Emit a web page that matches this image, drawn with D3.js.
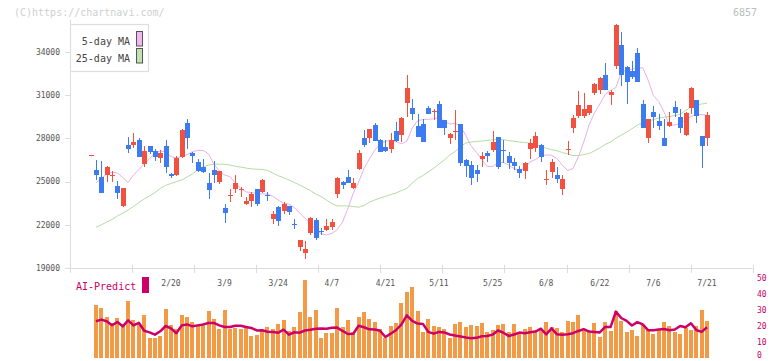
<!DOCTYPE html>
<html><head><meta charset="utf-8">
<script src="https://cdn.jsdelivr.net/npm/d3@7/dist/d3.min.js"></script>
<style>html,body{margin:0;padding:0;background:#fff;}svg{display:block;}</style>
</head><body><div id="chart"></div>
<script>
const openP  = [26820,25810,25320,25460,25420,24690,23310,27540,27540,27890,26240,27470,27100,26640,27470,25530,25460,26710,29050,27010,26380,26030,24920,25810,24990,23190,24020,24510,24460,23440,23670,24490,24300,24040,22400,23260,22980,23330,22090,20440,20060,21410,22330,21540,21640,21870,24140,24990,25340,24560,25850,28030,28030,28930,27890,27380,27240,28510,28240,30480,30130,28880,29000,30090,29830,30390,29280,28050,28490,29000,26500,26150,25810,26550,26970,27190,28080,27160,26780,26380,25850,25760,27260,27310,27540,25150,25690,25460,24470,27220,28740,29560,29560,29740,31130,31360,32400,31010,33030,34490,32980,32680,33950,30390,28050,29810,29210,28050,28860,30200,29510,28240,30130,30670,28170,28010];
const highP  = [26850,26500,26430,26100,25760,25040,24580,28080,28350,28050,27470,27500,27260,27190,27890,25620,26780,28650,29350,27060,26570,26570,25580,26450,25760,23440,24490,25440,24650,23910,24300,24500,25160,24260,22980,23330,23600,23340,22400,20960,20880,22560,22450,21760,22380,22380,25290,25040,25810,25270,27190,28580,28650,29090,27980,27890,28400,29160,29470,32400,30720,29690,29330,30250,30020,30620,29290,28400,29970,29010,26550,26430,26150,27080,27130,28510,28090,27890,27080,26620,26080,26330,27940,28470,27610,25810,26570,25990,25460,27820,29630,31290,31170,30340,31830,32230,33220,31360,35940,35410,33000,33370,34260,30670,29370,30270,29670,29330,29810,30600,30040,29800,31590,30680,28180,29850];
const lowP   = [26800,25110,24230,24950,24970,23770,23240,27010,27310,26690,25990,26900,26450,26310,25620,25250,25410,26640,27240,26310,25670,25580,23770,24920,24830,22100,23600,24230,23910,23380,23260,23330,24230,23670,22080,21940,22750,22680,21730,20200,19630,21290,20940,21290,21590,21640,23880,24510,24900,24510,25840,27420,27660,27820,27060,27080,27010,27770,27770,29470,29280,28080,27760,29660,29280,28730,28240,27610,27890,26080,25340,24760,24990,25990,26380,27080,25900,26270,25900,25810,25270,25200,26570,27080,26380,24760,25230,24880,24070,26850,28400,29400,29400,29630,31010,31080,31340,30320,32820,31640,30370,32120,31920,28730,27660,28700,28580,27460,28810,29510,28350,28190,29670,29050,25970,27470];
const closeP = [26840,25460,24230,26010,25450,24230,24530,27260,27730,26730,27130,27080,26710,27010,25990,25390,26640,28580,28050,26800,25760,25690,24420,25460,25740,22840,24070,24920,24500,23670,24140,23440,25110,24000,22750,22260,23420,22910,22060,20940,20320,22490,21100,21510,21920,22170,25270,24760,24920,24920,27010,27540,28630,27840,27080,27150,27890,27840,29400,31480,29690,28120,27770,29670,29870,28740,28700,28310,28530,26310,26080,25270,25530,26780,26780,27770,25990,27130,26310,26080,25620,26310,27700,28170,26730,25200,26380,25180,25180,27260,29440,30320,30020,30320,31760,32220,31360,31240,35870,32400,31940,32280,31940,28740,29350,29510,28860,27470,29160,29740,28740,29780,31520,29580,27490,29630];
const ma5 = [null,24920,25220,25530,25650,25600,25280,24940,25460,25830,26220,26590,26970,27130,27060,26740,26640,26740,26870,27080,27170,27160,26920,26220,25740,25460,25340,24900,24520,24280,24240,24170,24140,24140,23980,23720,23490,23440,23200,22820,22450,22090,21670,21380,21290,21400,21670,22190,23130,24190,24950,25900,26570,27170,27610,27800,27870,27760,27630,27800,28720,29230,29310,29330,29360,29450,29170,29000,29050,28860,28200,27490,27010,26520,26060,26050,26290,26340,26150,25900,25810,25920,26380,26530,26780,26850,26830,26600,26150,25760,25910,26720,27750,28930,29760,30390,31050,31330,31530,32580,32750,32810,32890,32910,32060,30980,30560,29830,28930,28930,29030,29280,29520,29660,29660,29600];
const ma25 = [null,21830,21990,22190,22370,22610,22820,23030,23270,23550,23790,24000,24240,24520,24740,24870,24990,25110,25320,25530,25840,26030,26150,26200,26220,26200,26150,26060,26010,25940,25880,25860,25850,25770,25600,25410,25270,25110,24940,24760,24580,24380,24140,23970,23720,23480,23310,23310,23310,23270,23220,23340,23580,23720,23860,23970,24100,24210,24380,24530,24900,25220,25420,25670,25920,26220,26500,26850,27090,27440,27680,27750,27780,27820,27850,27910,27940,27910,27850,27800,27750,27720,27660,27590,27470,27310,27220,27150,27020,26920,26810,26810,26880,26950,27130,27330,27580,27750,28010,28220,28440,28670,28930,29070,29170,29310,29420,29470,29520,29590,29670,29940,30180,30320,30390,30440];
const volume = [null,33.3,31.5,25.8,22,25.2,21.5,35.8,24,21.5,27,12.5,12.5,14,30.8,20.5,18,27,25.8,22.7,20,21,29.6,24.6,18.3,30.2,18.3,19,18.3,19.5,13.8,14.6,17.3,19.4,18.3,21.3,23.8,16.9,19.4,28.8,49,25.6,30,12.5,15.6,15.6,31.3,19.5,24,16.5,25.6,28.8,24.4,22.5,18,12.5,20.2,22,34.6,41.3,44.5,29.4,16.3,24.4,20,19.4,18.1,12.5,21.3,22.5,19.4,20.6,20,21.9,16.3,17.5,20.6,21.3,16.3,21.3,15,18.1,19.4,16.3,18.1,22.5,19.4,18.8,16.3,23.1,22.5,26.9,16.9,16.9,21.9,13.1,22.5,16.9,29.4,23.1,16.3,17.5,13.8,20.6,17.5,15,17.5,22.5,20,16.3,15,18.8,17.5,20,30,23.1];
const predict = [null,23,24,23,20.5,22.5,19.8,23.5,20.4,22,17,16,14.6,16.7,20,18.5,15.5,20.4,21,19.8,20.4,21,21.9,21.9,20.4,19.4,19.4,20.2,20.2,19.4,18.8,17.2,17.3,16.4,16.3,15.8,17.7,14.6,16.1,15.8,17.2,17.7,18.3,18.5,18.3,18.9,19,16.9,15,15.2,20.2,19.2,17.9,17.8,17,13.1,15.2,17.5,21,26.7,23.2,21.5,21.3,16.3,15.2,16.3,16,14.7,14.1,13.5,12.8,12.3,12.6,13.6,13.8,14.6,17.2,15.8,13.8,14.7,15.9,15.5,16.1,16.5,18.3,14.8,18.5,14.8,14.5,14.9,15.5,16.9,18,16.5,16.3,16,19.4,19.3,29,25,23.2,20.3,22.4,21,17.4,17.3,17.8,18.1,17.4,17.8,20,19.2,21.7,17.5,16.3,19.2];
const dateLabels = ["2/20","3/9","3/24","4/7","4/21","5/11","5/25","6/8","6/22","7/6","7/21"];
const dateIndex = [15,25,35,45,55,65,75,85,95,105,115];
const priceTicks = [19000,22000,25000,28000,31000,34000];
const predictTicks = [0,10,20,30,40,50];

const W = 772, H = 361;
const FONT = "'DejaVu Sans Mono', 'Liberation Mono', monospace";
const RED = "#f0523f", BLUE = "#3d7cf0";
const svg = d3.select("#chart").append("svg").attr("width", W).attr("height", H);

const n = closeP.length;
const x = d3.scaleLinear().domain([0, n - 1]).range([90.6, 707]);
const y = d3.scaleLinear().domain([19000, 34000]).range([268, 52]);
const yv = d3.scaleLinear().domain([0, 50]).range([358, 278]);
const frame = d3.scaleLinear().domain([0, 11]).range([70, 752.7]);

// watermark
svg.append("text").attr("x", 14).attr("y", 16).attr("font-family", FONT).attr("font-size", 10)
  .attr("fill", "#cfcfcf").text("(C)https://chartnavi.com/");
svg.append("text").attr("x", 757).attr("y", 16).attr("text-anchor", "end").attr("font-family", FONT)
  .attr("font-size", 10).attr("fill", "#bdbdbd").text("6857");

// axes frame
const axisG = svg.append("g").attr("stroke", "#dcdcdc").attr("stroke-width", 1);
axisG.append("line").attr("x1", 70.5).attr("x2", 70.5).attr("y1", 20).attr("y2", 273);
axisG.append("line").attr("x1", 70).attr("x2", 752.7).attr("y1", 268.5).attr("y2", 268.5);
axisG.selectAll(".xt").data(d3.range(0, 12)).join("line")
  .attr("x1", d => Math.round(frame(d)) + 0.5).attr("x2", d => Math.round(frame(d)) + 0.5)
  .attr("y1", 265).attr("y2", 273);
axisG.selectAll(".yt").data(priceTicks).join("line")
  .attr("x1", 65).attr("x2", 70).attr("y1", d => Math.round(y(d)) + 0.5).attr("y2", d => Math.round(y(d)) + 0.5);

svg.selectAll(".ylab").data(priceTicks).join("text")
  .attr("x", 60).attr("y", d => y(d)).attr("dy", "0.35em").attr("text-anchor", "end")
  .attr("font-family", FONT).attr("font-size", 8).attr("fill", "#555").text(d => d);

svg.selectAll(".xlab").data(dateLabels).join("text")
  .attr("x", (d, i) => x(dateIndex[i])).attr("y", 286).attr("text-anchor", "middle")
  .attr("font-family", FONT).attr("font-size", 8).attr("fill", "#555").text(d => d);

// moving averages
const lineGen = arr => d3.line().defined(d => d != null).x((d, i) => x(i)).y(d => y(d))(arr);
svg.append("path").attr("d", lineGen(ma25)).attr("fill", "none").attr("stroke", "#b4dca4").attr("stroke-width", 1);
svg.append("path").attr("d", lineGen(ma5)).attr("fill", "none").attr("stroke", "#e8b0e8").attr("stroke-width", 1);

// candles
const idx = d3.range(n);
const cg = svg.append("g").attr("shape-rendering", "crispEdges");
cg.selectAll(".wick").data(idx).join("line")
  .attr("x1", i => Math.round(x(i)) + 0.5).attr("x2", i => Math.round(x(i)) + 0.5)
  .attr("y1", i => y(highP[i])).attr("y2", i => y(lowP[i]))
  .attr("stroke", i => closeP[i] >= openP[i] ? RED : BLUE).attr("stroke-width", 1);
const bw = 5;
cg.selectAll(".body").data(idx).join("rect")
  .attr("x", i => Math.round(x(i)) - 2)
  .attr("width", bw)
  .attr("y", i => y(Math.max(openP[i], closeP[i])))
  .attr("height", i => Math.max(1, Math.abs(y(openP[i]) - y(closeP[i]))))
  .attr("fill", i => closeP[i] >= openP[i] ? RED : BLUE);

// legend
svg.append("rect").attr("x", 70.5).attr("y", 24.5).attr("width", 78).attr("height", 47)
  .attr("fill", "#fff").attr("stroke", "#dedede").attr("stroke-width", 1.2);
const legend = [{t: "5-day MA", c: "#f0b8f0", y: 45}, {t: "25-day MA", c: "#c0e2b2", y: 62}];
svg.selectAll(".lt").data(legend).join("text").attr("x", 130).attr("y", d => d.y).attr("text-anchor", "end")
  .attr("font-family", FONT).attr("font-size", 10).attr("fill", "#444").text(d => d.t);
svg.selectAll(".ls").data(legend).join("rect").attr("x", 136.5).attr("y", d => d.y - 13.5)
  .attr("width", 6).attr("height", 14.5).attr("fill", d => d.c).attr("stroke", "#555").attr("stroke-width", 1);

// lower panel
svg.append("text").attr("x", 76).attr("y", 290).attr("font-family", FONT).attr("font-size", 10)
  .attr("fill", "#cc0066").text("AI-Predict");
svg.append("rect").attr("x", 142).attr("y", 277).attr("width", 7).attr("height", 16).attr("fill", "#cc0066");

svg.append("g").attr("shape-rendering", "crispEdges").selectAll("rect")
  .data(idx.filter(i => volume[i] != null)).join("rect")
  .attr("x", i => Math.round(x(i)) - 2).attr("width", 4)
  .attr("y", i => yv(volume[i])).attr("height", i => yv(0) - yv(volume[i]))
  .attr("fill", "#f29a45");

svg.append("path").attr("d", d3.line().defined(d => d != null).x((d, i) => x(i)).y(d => yv(d))(predict))
  .attr("fill", "none").attr("stroke", "#cc0066").attr("stroke-width", 2.5).attr("stroke-linejoin", "round");

svg.selectAll(".rlab").data(predictTicks).join("text")
  .attr("x", 757).attr("y", d => Math.min(yv(d), 355)).attr("dy", "0.35em")
  .attr("font-family", FONT).attr("font-size", 8).attr("fill", "#cc0066").text(d => d);
</script></body></html>
